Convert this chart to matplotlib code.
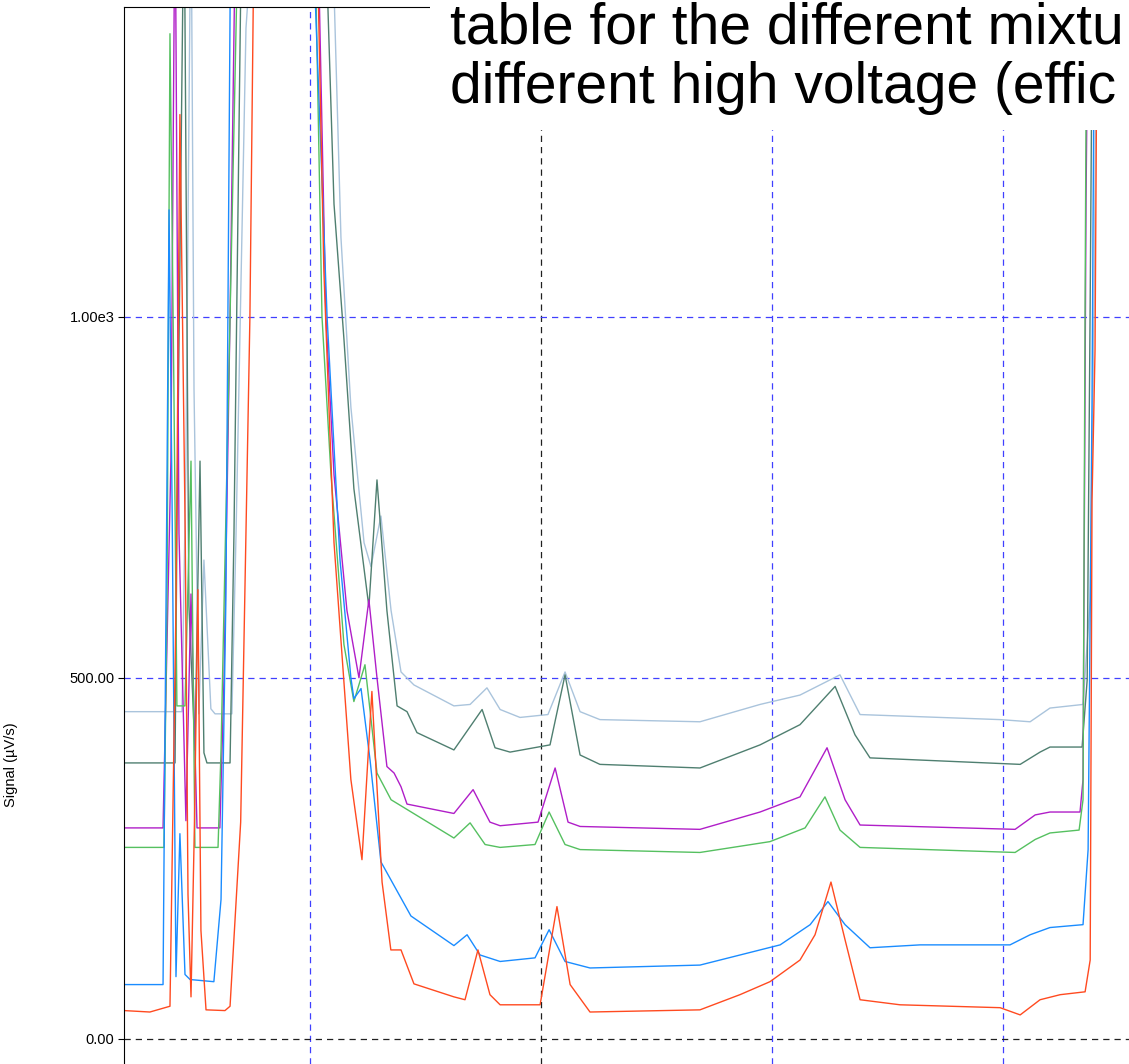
import matplotlib
matplotlib.use("Agg")
import matplotlib.pyplot as plt
from matplotlib.patches import Rectangle

plt.rcParams["font.family"] = ["Liberation Sans", "DejaVu Sans"]

# retention time (min) / signal (uV/s)
red_t = [1.195, 1.307, 1.394, 1.42, 1.437, 1.46, 1.472, 1.485, 1.50, 1.515, 1.528, 1.55, 1.632, 1.654,
         1.70, 1.74, 1.76, 2.026, 2.06, 2.104, 2.177, 2.225, 2.268, 2.312, 2.35, 2.394, 2.45, 2.623,
         2.671, 2.727, 2.779, 2.823, 2.996, 3.069, 3.126, 3.212, 3.688, 3.861, 3.991, 4.121, 4.186,
         4.255, 4.316, 4.381, 4.554, 4.987, 5.074, 5.16, 5.247, 5.355, 5.377, 5.385, 5.398, 5.41]
red_v = [39, 37, 45, 600, 1280, 700, 200, 58, 300, 622, 150, 40, 39, 45,
         300, 1000, 1600, 1600, 1064, 687, 359, 248, 481, 217, 123, 123, 76, 58,
         54, 123, 61, 47, 47, 183, 75, 37, 40, 61, 79, 109, 144,
         217, 137, 54, 47, 43, 33, 54, 61, 65, 109, 746, 954, 1600]

blue_t = [1.195, 1.364, 1.377, 1.39, 1.403, 1.42, 1.437, 1.459, 1.481, 1.584, 1.615, 1.636, 1.658,
          2.004, 2.074, 2.13, 2.177, 2.19, 2.221, 2.26, 2.307, 2.437, 2.623, 2.68, 2.736, 2.823,
          2.974, 3.035, 3.104, 3.212, 3.688, 4.035, 4.165, 4.242, 4.316, 4.424, 4.641, 5.03, 5.117,
          5.203, 5.346, 5.368, 5.385, 5.398]
blue_v = [75, 75, 608, 1148, 746, 86, 284, 89, 82, 79, 193, 608, 1600,
          1600, 1000, 663, 500, 471, 485, 386, 245, 170, 129, 144, 116, 107,
          112, 151, 107, 98, 102, 130, 158, 190, 158, 126, 130, 130, 144,
          154, 158, 262, 885, 1600]

green_t = [1.195, 1.368, 1.381, 1.394, 1.411, 1.424, 1.459, 1.485, 1.502, 1.602, 1.615, 1.654, 1.693,
           2.017, 2.052, 2.091, 2.147, 2.19, 2.238, 2.29, 2.351, 2.623, 2.693, 2.758, 2.823, 2.974,
           3.035, 3.104, 3.169, 3.688, 3.991, 4.143, 4.229, 4.294, 4.381, 5.052, 5.139, 5.203, 5.329,
           5.346, 5.355, 5.364]
green_v = [265, 265, 600, 1392, 900, 461, 461, 800, 265, 265, 400, 1000, 1600,
           1600, 1000, 781, 546, 467, 518, 368, 331, 278, 299, 269, 265, 269,
           314, 269, 262, 258, 273, 292, 335, 289, 265, 258, 276, 285, 289,
           331, 1023, 1600]

magenta_t = [1.195, 1.364, 1.398, 1.416, 1.433, 1.463, 1.485, 1.511, 1.524, 1.61, 1.628, 1.654, 1.68,
             2.03, 2.069, 2.104, 2.16, 2.212, 2.255, 2.29, 2.333, 2.364, 2.394, 2.42, 2.623, 2.706,
             2.779, 2.823, 2.987, 3.061, 3.117, 3.169, 3.688, 3.948, 4.121, 4.238, 4.316, 4.381, 5.052,
             5.139, 5.203, 5.333, 5.346, 5.359, 5.372]
magenta_v = [292, 292, 800, 1600, 700, 302, 616, 292, 292, 292, 500, 1000, 1600,
             1600, 1000, 781, 593, 500, 608, 500, 377, 368, 349, 325, 312, 345,
             300, 295, 300, 375, 300, 294, 290, 314, 335, 403, 331, 296, 290,
             310, 314, 314, 359, 1162, 1600]

slate_t = [1.195, 1.416, 1.424, 1.455, 1.476, 1.502, 1.524, 1.541, 1.554, 1.654, 1.671, 1.706,
           2.061, 2.104, 2.147, 2.19, 2.255, 2.29, 2.333, 2.377, 2.42, 2.463, 2.623, 2.745, 2.801,
           2.866, 3.039, 3.104, 3.169, 3.255, 3.688, 3.948, 4.121, 4.273, 4.359, 4.424, 5.074, 5.16,
           5.203, 5.342, 5.364, 5.377, 5.39]
slate_v = [382, 382, 700, 1600, 600, 400, 800, 396, 382, 382, 700, 1600,
           1600, 1156, 969, 762, 598, 774, 593, 461, 453, 424, 400, 456, 403,
           397, 407, 504, 393, 380, 375, 407, 435, 488, 421, 389, 380, 397,
           404, 404, 497, 1023, 1600]

pale_t = [1.195, 1.446, 1.463, 1.485, 1.498, 1.519, 1.541, 1.571, 1.589, 1.662, 1.68, 1.723, 1.766,
          2.091, 2.134, 2.177, 2.234, 2.264, 2.307, 2.351, 2.394, 2.45, 2.623, 2.693, 2.766, 2.823,
          2.909, 3.03, 3.104, 3.169, 3.255, 3.688, 3.948, 4.121, 4.294, 4.381, 4.987, 5.117, 5.203,
          5.346, 5.377, 5.394, 5.407]
pale_v = [453, 453, 800, 1600, 900, 450, 663, 457, 450, 450, 700, 1400, 1600,
          1600, 1110, 875, 687, 654, 724, 593, 508, 490, 461, 463, 486, 456,
          445, 449, 508, 453, 442, 439, 463, 476, 504, 449, 442, 439, 458,
          463, 608, 1023, 1600]

traces = [
    (pale_t, pale_v, "#aac4dc"),
    (slate_t, slate_v, "#4f7f70"),
    (magenta_t, magenta_v, "#b01ec8"),
    (green_t, green_v, "#55c060"),
    (blue_t, blue_v, "#1a8cff"),
    (red_t, red_v, "#ff4a20"),
]

fig = plt.figure(figsize=(11.29, 10.64), dpi=100)
ax = fig.add_axes([124 / 1129, 0.0, 1 - 124 / 1129, 1 - 7 / 1064])

for t, v, c in traces:
    ax.plot(t, v, color=c, linewidth=1.0)

for x, c in [(2, "#4040ff"), (3, "#202020"), (4, "#4040ff"), (5, "#4040ff")]:
    ax.axvline(x, color=c, linestyle=(0, (5, 4)), linewidth=0.9, zorder=0)
for y, c in [(0, "#202020"), (500, "#4040ff"), (1000, "#4040ff")]:
    ax.axhline(y, color=c, linestyle=(0, (5, 4)), linewidth=0.9, zorder=0)

ax.set_xlim(1.195, 5.545)
ax.set_ylim(-35, 1429)
ax.set_xticks([])
ax.set_yticks([0, 500, 1000])
ax.set_yticklabels(["0.00", "500.00", "1.00e3"], fontsize=10.5)
ax.tick_params(axis="y", length=4, pad=3)
ax.set_ylabel("Signal (µV/s)", fontsize=10.5)
ax.yaxis.set_label_coords(-0.105, 0.283)
ax.spines["right"].set_visible(False)
ax.spines["bottom"].set_visible(False)

fig.patches.append(Rectangle((430 / 1129, 1 - 130 / 1064), 1, 130 / 1064,
                             transform=fig.transFigure, facecolor="white",
                             edgecolor="none", zorder=5))
fig.text(450 / 1129, 1 - 28 / 1064, "table for the different mixtu", fontsize=41,
         va="center", ha="left", zorder=6)
fig.text(450 / 1129, 1 - 88 / 1064, "different high voltage (effic", fontsize=41,
         va="center", ha="left", zorder=6)

fig.savefig("out.png", dpi=100)
